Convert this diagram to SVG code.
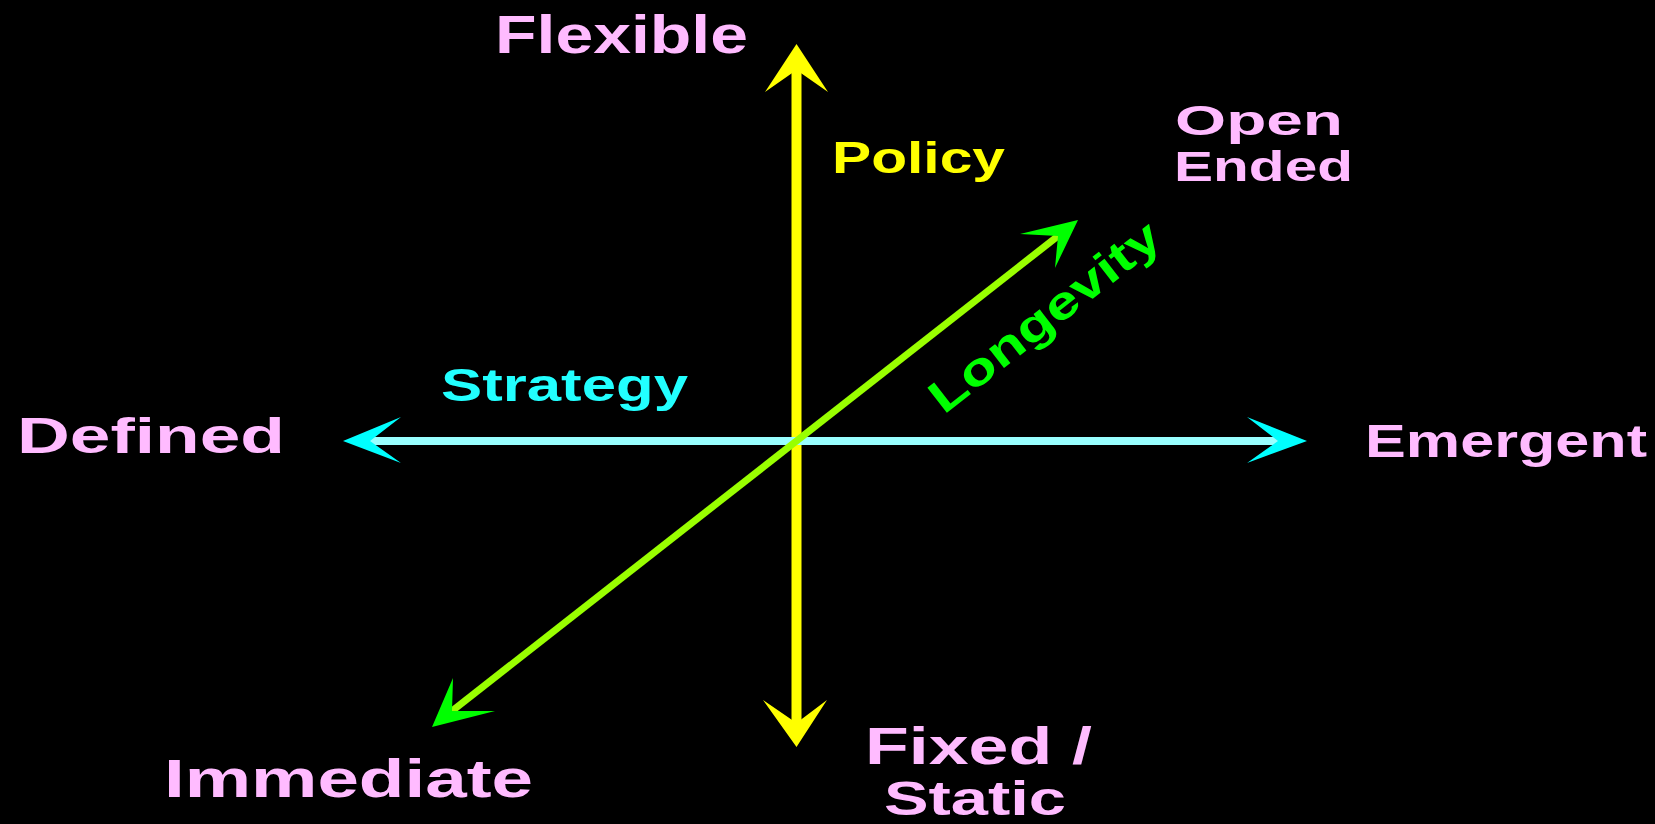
<svg xmlns="http://www.w3.org/2000/svg" width="1655" height="824" viewBox="0 0 1655 824">
<style>
.lbl{font-family:"Liberation Sans",Arial,sans-serif;font-weight:bold;fill:#ffbbff}
.pol{font-family:"Liberation Sans",Arial,sans-serif;font-weight:bold;fill:#ffff00}
.str{font-family:"Liberation Sans",Arial,sans-serif;font-weight:bold;fill:#22ffff}
.lon{font-family:"Liberation Sans",Arial,sans-serif;font-weight:bold;fill:#00ff00}
</style>
<rect width="1655" height="824" fill="#000"/>
<g id="connectors">
  <line x1="796.5" y1="68" x2="796.5" y2="725" stroke="#ffff00" stroke-width="10"/>
  <polygon points="796.5,44 828,92 796.5,70 765,92" fill="#ffff00"/>
  <polygon points="796.5,747 827,700 796.5,723 763,700" fill="#ffff00"/>
  <line x1="368" y1="441" x2="1280" y2="441" stroke="#99ffff" stroke-width="8"/>
  <polygon points="343,441 401,417 370,441 401,463" fill="#00ffff"/>
  <polygon points="1307,441 1247,417 1278,441 1247,463" fill="#00ffff"/>
  <line x1="452" y1="711" x2="1058" y2="236" stroke="#99ff00" stroke-width="7"/>
  <polygon points="1078,220 1020,234 1058,236 1055,268" fill="#00ff00"/>
  <polygon points="432,727 453,678 452,711 495,711" fill="#00ff00"/>
</g>
<g id="flexible"><text class="lbl" x="495" y="53" font-size="53" textLength="253" lengthAdjust="spacingAndGlyphs">Flexible</text></g>
<g id="policy"><text class="pol" x="832" y="173" font-size="45" textLength="173" lengthAdjust="spacingAndGlyphs">Policy</text></g>
<g id="open-ended">
  <text class="lbl" x="1175" y="135" font-size="43" textLength="168" lengthAdjust="spacingAndGlyphs">Open</text>
  <text class="lbl" x="1174" y="181" font-size="43" textLength="179" lengthAdjust="spacingAndGlyphs">Ended</text>
</g>
<g id="defined"><text class="lbl" x="17" y="453" font-size="50" textLength="268" lengthAdjust="spacingAndGlyphs">Defined</text></g>
<g id="emergent"><text class="lbl" x="1365" y="457" font-size="46" textLength="282" lengthAdjust="spacingAndGlyphs">Emergent</text></g>
<g id="strategy"><text class="str" x="441" y="401" font-size="46" textLength="247" lengthAdjust="spacingAndGlyphs">Strategy</text></g>
<g id="longevity"><text class="lon" x="0" y="0" font-size="46" text-anchor="middle" textLength="280" lengthAdjust="spacingAndGlyphs" transform="translate(1054,329) rotate(-38)">Longevity</text></g>
<g id="immediate"><text class="lbl" x="164" y="797" font-size="54" textLength="369" lengthAdjust="spacingAndGlyphs">Immediate</text></g>
<g id="fixed-static">
  <text class="lbl" x="865" y="764" font-size="52" textLength="227" lengthAdjust="spacingAndGlyphs">Fixed /</text>
  <text class="lbl" x="884" y="815" font-size="48" textLength="182" lengthAdjust="spacingAndGlyphs">Static</text>
</g>
</svg>
